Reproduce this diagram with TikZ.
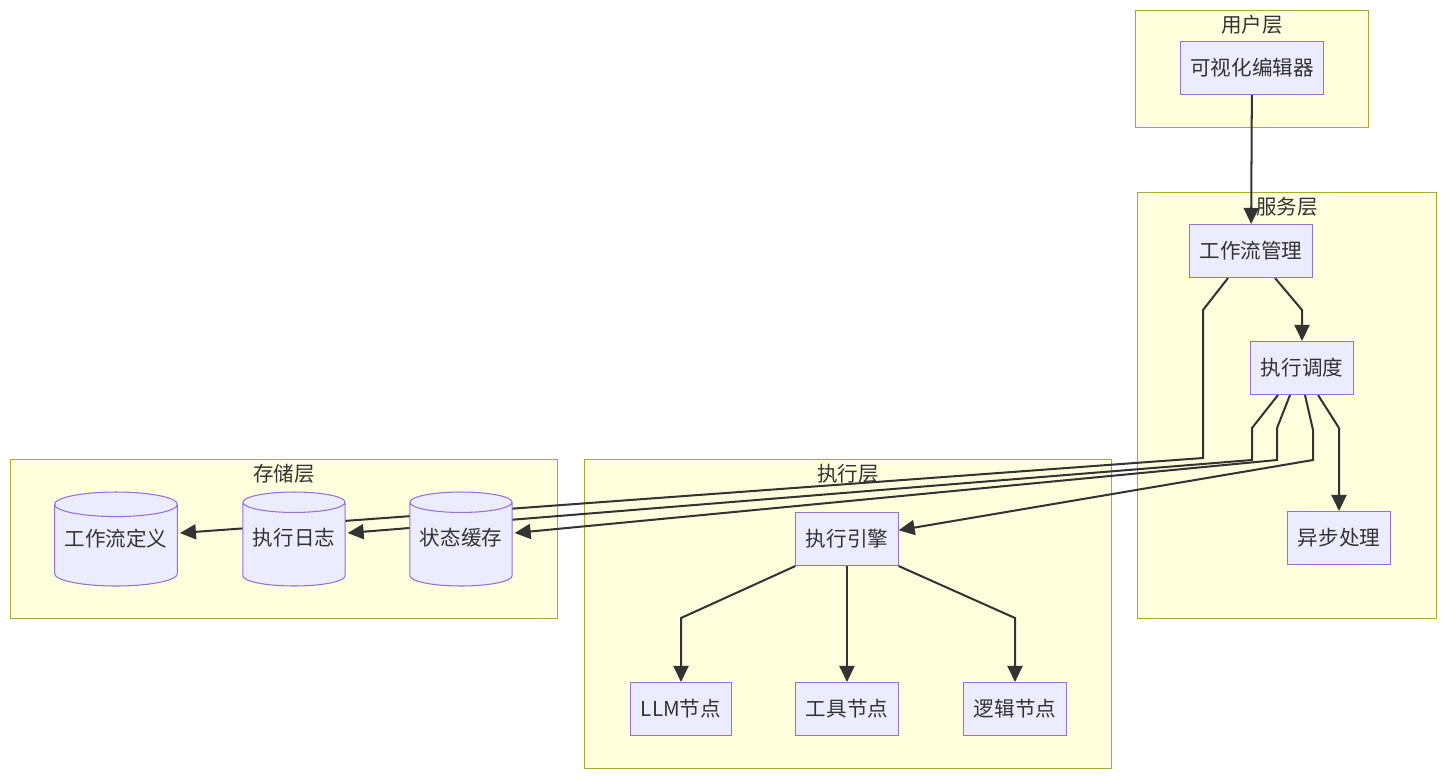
\documentclass[tikz,border=0pt]{standalone}
\usepackage{fontspec}
\setmainfont{Noto Sans CJK SC}
\usepackage{tikz}
\usetikzlibrary{
  arrows.meta,
  shapes.geometric,
  positioning,
  calc
}
\definecolor{wfZone}{HTML}{FFFFDE}
\definecolor{wfZoneLine}{HTML}{AAAA33}
\definecolor{wfNode}{HTML}{ECECFF}
\definecolor{wfNodeLine}{HTML}{9370DB}
\definecolor{wfInk}{HTML}{333333}
\pgfdeclarelayer{zonelayer}
\pgfdeclarelayer{edgelayer}
\pgfsetlayers{zonelayer,edgelayer,main}
\newcommand{\dblabel}[1]{\raisebox{0.2cm}[\height][\depth]{#1}}
\tikzset{
  wfnode/.style={
    draw=wfNodeLine, fill=wfNode, line width=0.6pt, minimum height=1.06cm,
    inner xsep=0.2cm, font=\fontsize{11.7}{14}\selectfont, text=wfInk
  },
  wfdb/.style={
    wfnode, cylinder, shape border rotate=90, aspect=0.2,
    minimum height=1.88cm, inner xsep=0.2cm, anchor=shape center
  },
  wfzone/.style={
    draw=wfZoneLine, fill=wfZone, line width=0.6pt, anchor=north west, inner sep=0pt
  },
  ztitle/.style={font=\fontsize{11.7}{14}\selectfont, text=wfInk, inner sep=0pt},
  wfflow/.style={-{Triangle[length=3.2mm, width=3mm]}, line width=1.15pt, wfInk}
}
\begin{document}
\begin{tikzpicture}[x=0.02cm, y=-0.02cm]
  \useasboundingbox (0,0) rectangle (1446,778);

  % zones
  \begin{pgfonlayer}{zonelayer}
    \node[wfzone, minimum width=4.66cm, minimum height=2.34cm] (userz) at (1135,10) {};
    \node[wfzone, minimum width=5.98cm, minimum height=8.52cm] (svcz) at (1137,192) {};
    \node[wfzone, minimum width=10.94cm, minimum height=3.18cm] (storz) at (10,459) {};
    \node[wfzone, minimum width=10.54cm, minimum height=6.18cm] (execz) at (584,459) {};
  \end{pgfonlayer}
  \node[ztitle] (usert) at ($(userz.north)+(0,15)$) {用户层};
  \node[ztitle] (svct) at ($(svcz.north)+(0,15)$) {服务层};
  \node[ztitle] (stort) at ($(storz.north)+(0,15)$) {存储层};
  \node[ztitle] (exect) at ($(execz.north)+(0,15)$) {执行层};

  % nodes
  \node[wfnode] (editor) at (1252,68) {可视化编辑器};
  \node[wfnode] (mgr) at (1251,251) {工作流管理};
  \node[wfnode] (sched) at (1302,368) {执行调度};
  \node[wfnode] (async) at (1339,538) {异步处理};
  \node[wfnode] (engine) at (847,539) {执行引擎};
  \node[wfnode] (llm) at (681,709) {LLM节点};
  \node[wfnode] (tool) at (847,709) {工具节点};
  \node[wfnode] (logic) at (1015,709) {逻辑节点};
  \node[wfdb] (wfdef) at (116,539) {\dblabel{工作流定义}};
  \node[wfdb] (execlog) at (294,539) {\dblabel{执行日志}};
  \node[wfdb] (cache) at (461,539) {\dblabel{状态缓存}};

  % edges
  \begin{pgfonlayer}{edgelayer}
    \draw[wfflow] (editor) -- (mgr);
    \draw[wfflow] ($(mgr.south)+(24,0)$) -- (1302,310) -- (sched.north);
    \draw[wfflow] ($(mgr.south)+(-23,0)$) -- (1203,310) -- (1203,458)
      -- ($(wfdef.shape center -| wfdef.east)+(2,-6)$);
    \draw[wfflow] ($(sched.south)+(-24,0)$) -- (1252,428) -- (1252,460)
      -- ($(execlog.shape center -| execlog.east)+(2,-6)$);
    \draw[wfflow] ($(sched.south)+(-12,0)$) -- (1277,428) -- (1277,460)
      -- ($(cache.shape center -| cache.east)+(2,-6)$);
    \draw[wfflow] ($(sched.south)+(3,0)$) -- (1313,430) -- (1313,460) -- (engine);
    \draw[wfflow] ($(sched.south)+(16,0)$) -- (1339,428) -- (async.north);
    \draw[wfflow] (engine.south west) -- (681,618) -- (llm.north);
    \draw[wfflow] (engine.south) -- (tool.north);
    \draw[wfflow] (engine.south east) -- (1015,618) -- (logic.north);
  \end{pgfonlayer}
\end{tikzpicture}
\end{document}
